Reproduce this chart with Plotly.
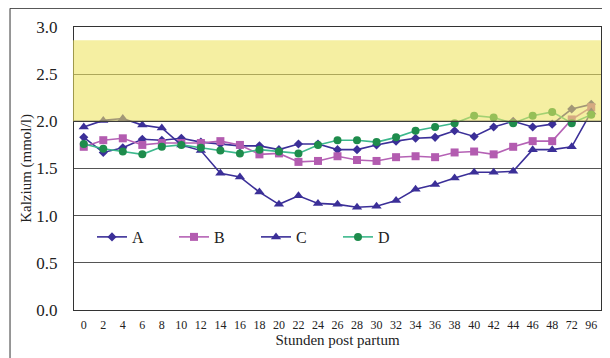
import plotly.graph_objects as go

hours = ["0", "2", "4", "6", "8", "10", "12", "14", "16", "18", "20", "22", "24", "26",
         "28", "30", "32", "34", "36", "38", "40", "42", "44", "46", "48", "72", "96"]

series_a = [1.83, 1.67, 1.72, 1.81, 1.80, 1.82, 1.78, 1.76, 1.74, 1.74, 1.70, 1.76, 1.76, 1.70,
            1.70, 1.75, 1.79, 1.82, 1.83, 1.90, 1.84, 1.94, 2.00, 1.94, 1.97, 2.13, 2.18]
series_b = [1.73, 1.80, 1.82, 1.75, 1.77, 1.77, 1.77, 1.79, 1.75, 1.65, 1.66, 1.57, 1.58, 1.63,
            1.59, 1.58, 1.62, 1.63, 1.62, 1.67, 1.68, 1.65, 1.73, 1.79, 1.79, 2.02, 2.15]
series_c = [1.94, 2.01, 2.03, 1.96, 1.93, 1.75, 1.69, 1.45, 1.41, 1.25, 1.12, 1.21, 1.13, 1.12,
            1.09, 1.10, 1.16, 1.28, 1.33, 1.40, 1.46, 1.46, 1.47, 1.70, 1.70, 1.73, 2.10]
series_d = [1.76, 1.71, 1.68, 1.65, 1.73, 1.75, 1.72, 1.69, 1.66, 1.70, 1.68, 1.66, 1.75, 1.80,
            1.80, 1.78, 1.83, 1.90, 1.94, 1.98, 2.06, 2.04, 1.98, 2.06, 2.10, 1.98, 2.07]

y_ticks = [0.0, 0.5, 1.0, 1.5, 2.0, 2.5, 3.0]
band_low, band_high = 2.0, 2.86

SERIF = "Liberation Serif"
NAVY = "#3b2f98"
fig = go.Figure()

def add(name, vals, line_color, marker_color, symbol, size):
    fig.add_trace(go.Scatter(
        x=hours, y=vals, name=name, mode="lines+markers",
        line=dict(color=line_color, width=1.6),
        marker=dict(symbol=symbol, size=size, color=marker_color,
                    line=dict(width=0)),
    ))

add("A", series_a, NAVY, NAVY, "diamond", 7)
add("B", series_b, "#b562b5", "#b35cb0", "square", 8)
add("C", series_c, NAVY, NAVY, "triangle-up", 9)
add("D", series_d, "#3cb88c", "#1e8c4c", "circle", 8)

# yellow reference band drawn above the data
fig.add_shape(type="rect", xref="paper", yref="y", x0=-0.002, x1=1, y0=band_low, y1=band_high,
              fillcolor="rgba(238,228,95,0.58)", line=dict(width=0), layer="above")
fig.add_shape(type="line", xref="paper", yref="y", x0=0, x1=1, y0=band_low, y1=band_low,
              line=dict(color="#3a3a3a", width=1.3), layer="above")
# outer frame
fig.add_shape(type="rect", xref="paper", yref="paper", x0=-0.1214, x1=1.0076, y0=-0.19, y1=1.066,
              line=dict(color="#333333", width=1), fillcolor="rgba(0,0,0,0)", layer="below")

fig.update_layout(
    width=602, height=350,
    margin=dict(l=66, r=9, t=19, b=48, autoexpand=False),
    paper_bgcolor="white", plot_bgcolor="white",
    font=dict(family=SERIF, color="#222222"),
    showlegend=True,
    legend=dict(orientation="h", x=(92 - 74) / 527, y=0.258, xanchor="left", yanchor="middle",
                entrywidth=37, entrywidthmode="pixels", bgcolor="rgba(0,0,0,0)",
                font=dict(size=16, family=SERIF, color="#222222"), traceorder="normal"),
)
fig.update_xaxes(
    type="category", range=[-0.5, len(hours) - 0.5],
    showgrid=False, showline=True, linecolor="#333333", linewidth=1.3, mirror=True,
    ticks="", tickfont=dict(size=12, family=SERIF, color="#222222"),
    ticklabelstandoff=3, automargin=False,
    title=dict(text="Stunden post partum", font=dict(size=15, family=SERIF, color="#222222"),
               standoff=2),
)
fig.update_yaxes(
    range=[0, 3.0], tickvals=y_ticks, ticktext=[f"{v:.1f}" for v in y_ticks],
    showgrid=True, gridcolor="#555555", gridwidth=1.2,
    showline=True, linecolor="#333333", linewidth=1.3, mirror=True, zeroline=False,
    ticks="", tickfont=dict(size=17, family=SERIF, color="#222222"), ticklabelstandoff=12,
    automargin=False,
    title=dict(text="Kalzium (mmol/l)", font=dict(size=15, family=SERIF, color="#222222"),
               standoff=0),
)

fig.write_html("out.html")
